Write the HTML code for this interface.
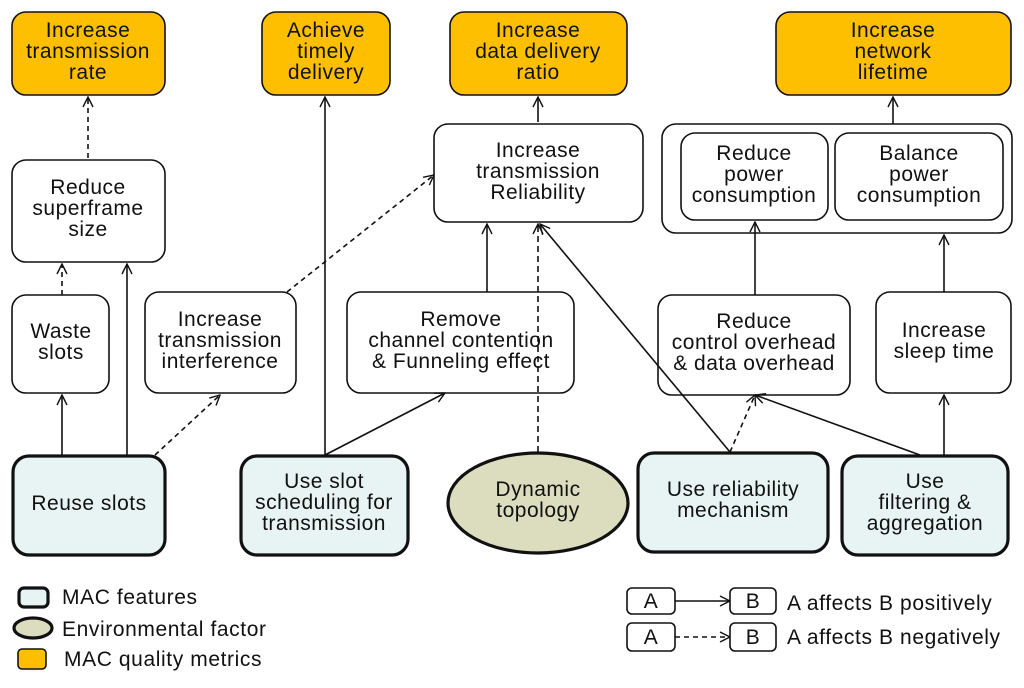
<!DOCTYPE html>
<html><head><meta charset="utf-8"><style>
html,body{margin:0;padding:0;background:#fff}
svg text{font-family:"Liberation Sans",sans-serif;font-size:21px;letter-spacing:0.5px;fill:#111;text-anchor:middle}
svg text.l{text-anchor:start;font-size:21px;letter-spacing:0.6px}
</style></head><body>
<svg width="1024" height="683" viewBox="0 0 1024 683" xmlns="http://www.w3.org/2000/svg">
<defs>
<marker id="a" viewBox="0 0 12 12" refX="11" refY="6" markerWidth="12" markerHeight="12" markerUnits="userSpaceOnUse" orient="auto"><path d="M1,1 L11,6 L1,11" fill="none" stroke="#111" stroke-width="1.4"/></marker>
</defs>
<g stroke="#111" fill="none" stroke-width="1.6">
<rect x="12" y="12" width="153" height="83" rx="14" fill="#fdbf00"/>
<rect x="262" y="12" width="128" height="83" rx="14" fill="#fdbf00"/>
<rect x="450" y="12" width="177" height="83" rx="14" fill="#fdbf00"/>
<rect x="776" y="12" width="235" height="83" rx="14" fill="#fdbf00"/>
<rect x="12" y="160" width="153" height="102" rx="14" fill="#fff"/>
<rect x="434" y="124" width="209" height="98" rx="14" fill="#fff"/>
<rect x="662" y="124" width="350" height="109" rx="14" fill="#fff"/>
<rect x="681" y="133" width="147" height="87" rx="14" fill="#fff"/>
<rect x="835" y="133" width="168" height="87" rx="14" fill="#fff"/>
<rect x="12" y="295" width="97" height="98" rx="14" fill="#fff"/>
<rect x="145" y="292" width="151" height="101" rx="14" fill="#fff"/>
<rect x="347" y="292" width="227" height="101" rx="14" fill="#fff"/>
<rect x="658" y="295" width="192" height="100" rx="14" fill="#fff"/>
<rect x="876" y="292" width="135" height="101" rx="14" fill="#fff"/>
<g stroke-width="3.2" fill="#e8f4f4">
<rect x="13" y="456" width="152" height="99" rx="16"/>
<rect x="241" y="456" width="167" height="99" rx="16"/>
<rect x="638" y="453" width="190" height="99" rx="16"/>
<rect x="842" y="456" width="166" height="99" rx="16"/>
<ellipse cx="538" cy="503" rx="90" ry="50" fill="#dcdcbf"/>
<rect x="19" y="588" width="29" height="19" rx="5"/>
<ellipse cx="33" cy="628" rx="19" ry="10" fill="#dcdcbf"/>
</g>
<rect x="18" y="649" width="28" height="20" rx="4" fill="#fdbf00"/>
<g marker-end="url(#a)">
<line x1="88" y1="158" x2="88" y2="97" stroke-dasharray="5,4"/>
<line x1="325" y1="455" x2="325" y2="97"/>
<line x1="538" y1="122" x2="538" y2="97"/>
<line x1="893" y1="124" x2="893" y2="97"/>
<line x1="62" y1="295" x2="62" y2="264" stroke-dasharray="5,4"/>
<line x1="127" y1="455" x2="127" y2="264"/>
<line x1="62" y1="455" x2="62" y2="395"/>
<line x1="155" y1="455" x2="220" y2="395" stroke-dasharray="5,4"/>
<line x1="287" y1="292" x2="434" y2="175" stroke-dasharray="5,4"/>
<line x1="325" y1="455" x2="445" y2="393"/>
<line x1="487" y1="292" x2="487" y2="224"/>
<line x1="538" y1="452" x2="538" y2="224" stroke-dasharray="6,4"/>
<line x1="730" y1="452" x2="540" y2="224"/>
<line x1="730" y1="452" x2="755" y2="395" stroke-dasharray="5,4"/>
<line x1="920" y1="455" x2="755" y2="395"/>
<line x1="944" y1="455" x2="944" y2="395"/>
<line x1="755" y1="295" x2="755" y2="222"/>
<line x1="944" y1="292" x2="944" y2="235"/>
<line x1="675" y1="601" x2="730" y2="601"/>
<line x1="675" y1="637" x2="730" y2="637" stroke-dasharray="5,4"/>
</g>
<rect x="627" y="588" width="48" height="26" rx="5" fill="#fff"/>
<rect x="730" y="588" width="46" height="26" rx="5" fill="#fff"/>
<rect x="627" y="623" width="48" height="28" rx="5" fill="#fff"/>
<rect x="730" y="623" width="46" height="28" rx="5" fill="#fff"/>
</g>
<g>
<text x="88" y="37">Increase</text><text x="88" y="58">transmission</text><text x="88" y="79">rate</text>
<text x="326" y="37">Achieve</text><text x="326" y="58">timely</text><text x="326" y="79">delivery</text>
<text x="538" y="37">Increase</text><text x="538" y="58">data delivery</text><text x="538" y="79">ratio</text>
<text x="893" y="37">Increase</text><text x="893" y="58">network</text><text x="893" y="79">lifetime</text>
<text x="88" y="194">Reduce</text><text x="88" y="215">superframe</text><text x="88" y="236">size</text>
<text x="538" y="157">Increase</text><text x="538" y="178">transmission</text><text x="538" y="199">Reliability</text>
<text x="754" y="160">Reduce</text><text x="754" y="181">power</text><text x="754" y="202">consumption</text>
<text x="919" y="160">Balance</text><text x="919" y="181">power</text><text x="919" y="202">consumption</text>
<text x="61" y="338">Waste</text><text x="61" y="359">slots</text>
<text x="220" y="326">Increase</text><text x="220" y="347">transmission</text><text x="220" y="368">interference</text>
<text x="461" y="326">Remove</text><text x="461" y="347">channel contention</text><text x="461" y="368">&amp; Funneling effect</text>
<text x="754" y="328">Reduce</text><text x="754" y="349">control overhead</text><text x="754" y="370">&amp; data overhead</text>
<text x="944" y="337">Increase</text><text x="944" y="358">sleep time</text>
<text x="89" y="510">Reuse slots</text>
<text x="324" y="488">Use slot</text><text x="324" y="509">scheduling for</text><text x="324" y="530">transmission</text>
<text x="538" y="496">Dynamic</text><text x="538" y="517">topology</text>
<text x="733" y="496">Use reliability</text><text x="733" y="517">mechanism</text>
<text x="925" y="488">Use</text><text x="925" y="509">filtering &amp;</text><text x="925" y="530">aggregation</text>
<text x="651" y="608">A</text><text x="753" y="608">B</text>
<text x="651" y="644">A</text><text x="753" y="644">B</text>
<text class="l" x="62" y="604">MAC features</text>
<text class="l" x="62" y="636">Environmental factor</text>
<text class="l" x="64" y="666">MAC quality metrics</text>
<text class="l" x="787" y="610">A affects B positively</text>
<text class="l" x="787" y="644">A affects B negatively</text>
</g>
</svg>
</body></html>
